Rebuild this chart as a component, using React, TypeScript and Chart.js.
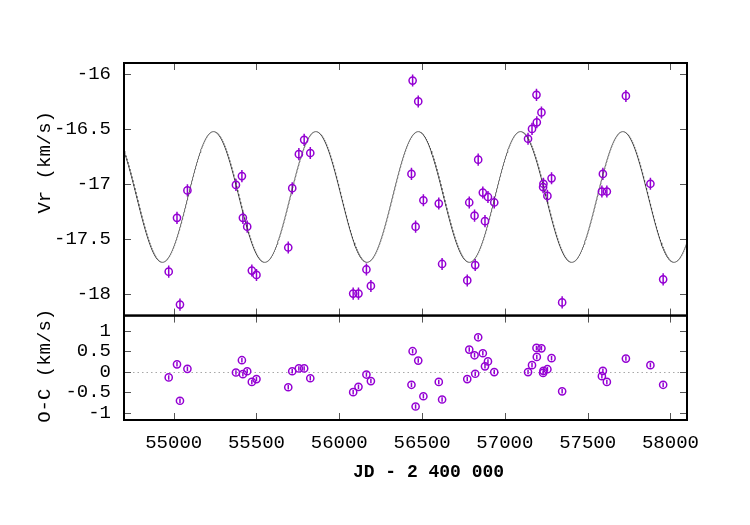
import React, { useEffect, useRef } from 'react';
import { Chart, registerables } from 'chart.js';

Chart.register(...registerables);

// ---- data ----
const JD = [
  54970, 55020, 55038, 55083, 55376, 55412, 55418, 55444, 55472, 55500,
  55692, 55716, 55756, 55788, 55825, 56084, 56116, 56164, 56191, 56436,
  56443, 56461, 56477, 56508, 56601, 56621, 56773, 56785, 56817, 56821,
  56839, 56867, 56880, 56898, 56936, 57140, 57164, 57191, 57193, 57221,
  57231, 57233, 57257, 57282, 57346, 57586, 57592, 57616, 57731, 57879,
  57956,
];
const VR = [
  -17.80, -17.31, -18.10, -17.06, -17.01, -16.93, -17.31, -17.39, -17.79, -17.83,
  -17.58, -17.04, -16.73, -16.60, -16.72, -18.00, -18.00, -17.78, -17.93, -16.91,
  -16.06, -17.39, -16.25, -17.15, -17.18, -17.73, -17.88, -17.17, -17.29, -17.74,
  -16.78, -17.08, -17.34, -17.12, -17.17, -16.59, -16.50, -16.19, -16.44, -16.35,
  -17.03, -17.00, -17.11, -16.95, -18.08, -17.07, -16.91, -17.07, -16.20, -17.00,
  -17.87,
];
const OC = [
  -0.14, 0.18, -0.71, 0.07, -0.02, 0.28, -0.06, 0.01, -0.25, -0.18,
  -0.38, 0.01, 0.08, 0.08, -0.16, -0.50, -0.37, -0.07, -0.23, -0.32,
  0.50, -0.85, 0.27, -0.60, -0.25, -0.68, -0.18, 0.54, 0.40, -0.05,
  0.84, 0.45, 0.13, 0.25, -0.01, -0.01, 0.16, 0.58, 0.36, 0.57,
  -0.03, 0.02, 0.06, 0.33, -0.48, -0.11, 0.02, -0.25, 0.32, 0.16,
  -0.32,
];
const VR_ERR = 0.055;

const X_TICKS = [55000, 55500, 56000, 56500, 57000, 57500, 58000];
const VR_TICKS = [-16, -16.5, -17, -17.5, -18];
const OC_TICKS = [1, 0.5, 0, -0.5, -1];

const X_RANGE = [54700, 58100];
const VR_RANGE = [-18.2, -15.9];
const OC_RANGE = [-1.18, 1.37];

// orbital model (sine fit) parameters
const GAMMA = -17.12;
const AMPL = 0.595;
const PERIOD = 618;
const T_MAX = 55240;

const X_TITLE = 'JD - 2 400 000';
const VR_TITLE = 'Vr (km/s)';
const OC_TITLE = 'O-C (km/s)';

const COLOR = '#9400d3';
const FONT = '"Liberation Mono", "DejaVu Sans Mono", monospace';
const FSIZE = 19;

function modelCurve() {
  const pts: { x: number; y: number }[] = [];
  for (let t = X_RANGE[0]; t <= X_RANGE[1]; t += 3) {
    pts.push({ x: t, y: GAMMA + AMPL * Math.cos((2 * Math.PI * (t - T_MAX)) / PERIOD) });
  }
  return pts;
}

const gnuFrame = {
  id: 'gnuFrame',
  beforeDatasetsDraw(chart: any) {
    const { ctx, chartArea: ca, scales } = chart;
    const x = scales.x, yT = scales.yTop, yB = scales.yBot;
    ctx.save();
    // zero line
    ctx.strokeStyle = '#a8a8a8';
    ctx.lineWidth = 1;
    ctx.setLineDash([1.5, 3]);
    const y0 = Math.round(yB.getPixelForValue(0)) + 0.5;
    ctx.beginPath();
    ctx.moveTo(ca.left, y0);
    ctx.lineTo(ca.right, y0);
    ctx.stroke();
    ctx.setLineDash([]);
    // error bars
    ctx.strokeStyle = COLOR;
    ctx.lineWidth = 1.5;
    ctx.beginPath();
    JD.forEach((t, i) => {
      const px = x.getPixelForValue(t);
      ctx.moveTo(px, yT.getPixelForValue(VR[i] - VR_ERR));
      ctx.lineTo(px, yT.getPixelForValue(VR[i] + VR_ERR));
      ctx.moveTo(px, yB.getPixelForValue(OC[i] - VR_ERR));
      ctx.lineTo(px, yB.getPixelForValue(OC[i] + VR_ERR));
    });
    ctx.stroke();
    ctx.restore();
  },
  afterDatasetsDraw(chart: any) {
    const { ctx, chartArea: ca, scales } = chart;
    const x = scales.x, yT = scales.yTop, yB = scales.yBot;
    const TL = 7;
    ctx.save();
    // tick marks
    ctx.strokeStyle = '#555';
    ctx.lineWidth = 1;
    ctx.beginPath();
    for (const panel of [yT, yB]) {
      for (const v of X_TICKS) {
        const px = Math.round(x.getPixelForValue(v)) + 0.5;
        ctx.moveTo(px, panel.top);
        ctx.lineTo(px, panel.top + TL);
        ctx.moveTo(px, panel.bottom);
        ctx.lineTo(px, panel.bottom - TL);
      }
      const ticks = panel === yT ? VR_TICKS : OC_TICKS;
      for (const v of ticks) {
        const py = Math.round(panel.getPixelForValue(v)) + 0.5;
        ctx.moveTo(ca.left, py);
        ctx.lineTo(ca.left + TL, py);
        ctx.moveTo(ca.right, py);
        ctx.lineTo(ca.right - TL, py);
      }
    }
    ctx.stroke();
    // borders
    ctx.strokeStyle = '#000';
    ctx.lineWidth = 2;
    for (const panel of [yT, yB]) {
      ctx.strokeRect(ca.left, panel.top, ca.right - ca.left, panel.bottom - panel.top);
    }
    ctx.restore();
  },
  afterDraw(chart: any) {
    const { ctx, chartArea: ca, scales } = chart;
    const yT = scales.yTop, yB = scales.yBot;
    ctx.save();
    ctx.fillStyle = '#000';
    ctx.font = `bold ${FSIZE - 1}px ${FONT}`;
    ctx.textAlign = 'center';
    ctx.textBaseline = 'middle';
    ctx.fillText(X_TITLE, (ca.left + ca.right) / 2 + 23, ca.bottom + 52);
    ctx.font = `${FSIZE}px ${FONT}`;
    ctx.translate(45, (yT.top + yT.bottom) / 2 - 27);
    ctx.rotate(-Math.PI / 2);
    ctx.fillText(VR_TITLE, 0, 0);
    ctx.restore();
    ctx.save();
    ctx.fillStyle = '#000';
    ctx.font = `${FSIZE}px ${FONT}`;
    ctx.textAlign = 'center';
    ctx.textBaseline = 'middle';
    ctx.translate(45, (yB.top + yB.bottom) / 2 - 2);
    ctx.rotate(-Math.PI / 2);
    ctx.fillText(OC_TITLE, 0, 0);
    ctx.restore();
  },
};

export default function App() {
  const ref = useRef<HTMLCanvasElement | null>(null);
  useEffect(() => {
    if (!ref.current) return;
    const tickFont = { family: FONT, size: FSIZE };
    const fix = (list: number[]) => (s: any) => {
      s.ticks = list.map((v) => ({ value: v }));
    };
    const chart = new Chart(ref.current, {
      type: 'scatter',
      data: {
        datasets: [
          {
            data: modelCurve(),
            yAxisID: 'yTop',
            showLine: true,
            borderColor: 'rgba(60,60,60,0.8)',
            borderWidth: 1,
            pointRadius: 0,
            order: 3,
          },
          {
            data: JD.map((t, i) => ({ x: t, y: VR[i] })),
            yAxisID: 'yTop',
            pointRadius: 3.6,
            pointBorderWidth: 1.5,
            borderColor: COLOR,
            backgroundColor: 'rgba(0,0,0,0)',
            order: 1,
          },
          {
            data: JD.map((t, i) => ({ x: t, y: OC[i] })),
            yAxisID: 'yBot',
            pointRadius: 3.6,
            pointBorderWidth: 1.5,
            borderColor: COLOR,
            backgroundColor: 'rgba(0,0,0,0)',
            order: 1,
          },
        ],
      },
      options: {
        animation: false,
        responsive: false,
        layout: { padding: { top: 63, right: 63, left: 0, bottom: 25 } },
        plugins: { legend: { display: false }, tooltip: { enabled: false } },
        scales: {
          x: {
            type: 'linear',
            min: X_RANGE[0],
            max: X_RANGE[1],
            afterBuildTicks: fix(X_TICKS),
            afterFit: (s: any) => { s.height = 80; },
            grid: { display: false, drawTicks: false },
            border: { display: false },
            ticks: { font: tickFont, color: '#000', padding: 12, maxRotation: 0, autoSkip: false, callback: (v: any) => String(v) },
          },
          yBot: {
            type: 'linear',
            position: 'left',
            stack: 'panels',
            stackWeight: 104.6,
            min: OC_RANGE[0],
            max: OC_RANGE[1],
            afterBuildTicks: fix(OC_TICKS),
            afterFit: (s: any) => { s.width = 124; },
            grid: { display: false, drawTicks: false },
            border: { display: false },
            ticks: { font: tickFont, color: '#000', padding: 13, autoSkip: false, callback: (v: any) => String(v) },
          },
          yTop: {
            type: 'linear',
            position: 'left',
            stack: 'panels',
            stackWeight: 253,
            min: VR_RANGE[0],
            max: VR_RANGE[1],
            afterBuildTicks: fix(VR_TICKS),
            afterFit: (s: any) => { s.width = 124; },
            grid: { display: false, drawTicks: false },
            border: { display: false },
            ticks: { font: tickFont, color: '#000', padding: 13, autoSkip: false, callback: (v: any) => String(v) },
          },
        },
      } as any,
      plugins: [gnuFrame],
    });
    return () => chart.destroy();
  }, []);
  return (
    <div style={{ position: 'fixed', left: 0, top: 0, width: 750, height: 525, background: '#fff' }}>
      <canvas ref={ref} width={750} height={525} />
    </div>
  );
}
